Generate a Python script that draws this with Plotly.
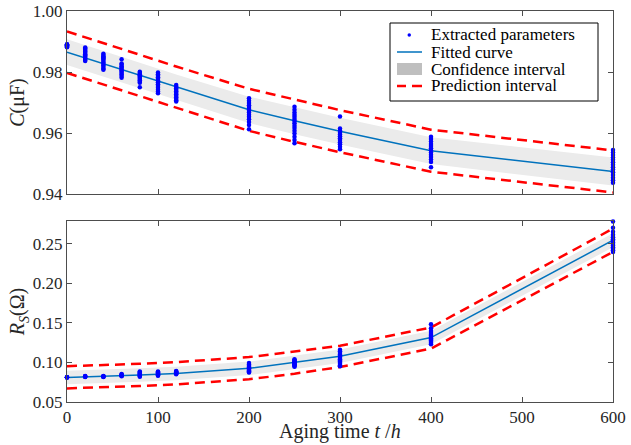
import plotly.graph_objects as go
from plotly.subplots import make_subplots

# ---------------- data ----------------
times = [0, 20, 40, 60, 80, 100, 120, 200, 250, 300, 400, 600]

C_fit = [0.9865, 0.9846, 0.9827, 0.9808, 0.9788, 0.9769, 0.9750, 0.9676, 0.9640, 0.9606, 0.9542, 0.9474]
C_conf_up = [0.9907, 0.9888, 0.9869, 0.9850, 0.9830, 0.9811, 0.9792, 0.9719, 0.9684, 0.9650, 0.9586, 0.9520]
C_conf_lo = [0.9823, 0.9804, 0.9785, 0.9766, 0.9746, 0.9727, 0.9708, 0.9633, 0.9596, 0.9562, 0.9498, 0.9428]
C_pred_up = [0.9933, 0.9914, 0.9895, 0.9876, 0.9856, 0.9837, 0.9818, 0.9745, 0.9709, 0.9675, 0.9611, 0.9543]
C_pred_lo = [0.9797, 0.9778, 0.9759, 0.9740, 0.9720, 0.9701, 0.9682, 0.9607, 0.9571, 0.9537, 0.9473, 0.9405]

R_fit = [0.0810, 0.0816, 0.0823, 0.0831, 0.0840, 0.0850, 0.0861, 0.0925, 0.0997, 0.1077, 0.1313, 0.2542]
R_conf_up = [0.0895, 0.0901, 0.0908, 0.0916, 0.0925, 0.0935, 0.0946, 0.1010, 0.1082, 0.1162, 0.1398, 0.2630]
R_conf_lo = [0.0725, 0.0731, 0.0738, 0.0746, 0.0755, 0.0765, 0.0776, 0.0840, 0.0912, 0.0992, 0.1228, 0.2454]
R_pred_up = [0.0952, 0.0958, 0.0965, 0.0973, 0.0982, 0.0992, 0.1003, 0.1067, 0.1137, 0.1209, 0.1441, 0.2689]
R_pred_lo = [0.0672, 0.0678, 0.0685, 0.0693, 0.0702, 0.0712, 0.0723, 0.0787, 0.0857, 0.0942, 0.1174, 0.2395]

# extracted parameters (one list per aging time)
C_points = [
    [0.9881, 0.9883, 0.9885, 0.9887, 0.9888, 0.9890, 0.9886, 0.9884, 0.9889, 0.9891],
    [0.9880, 0.9877, 0.9873, 0.9869, 0.9866, 0.9862, 0.9858, 0.9855, 0.9851, 0.9847, 0.9843, 0.9839, 0.9836],
    [0.9860, 0.9856, 0.9852, 0.9848, 0.9845, 0.9841, 0.9836, 0.9831, 0.9826, 0.9821, 0.9816, 0.9811, 0.9807],
    [0.9842, 0.9828, 0.9824, 0.9819, 0.9815, 0.9810, 0.9806, 0.9801, 0.9797, 0.9792, 0.9787, 0.9781],
    [0.9801, 0.9797, 0.9793, 0.9789, 0.9785, 0.9781, 0.9777, 0.9773, 0.9768, 0.9765, 0.9750],
    [0.9798, 0.9793, 0.9788, 0.9783, 0.9778, 0.9772, 0.9766, 0.9760, 0.9754, 0.9748, 0.9742, 0.9736, 0.9730],
    [0.9757, 0.9752, 0.9747, 0.9742, 0.9737, 0.9732, 0.9727, 0.9722, 0.9717, 0.9712, 0.9707, 0.9703],
    [0.9714, 0.9706, 0.9698, 0.9691, 0.9685, 0.9679, 0.9673, 0.9667, 0.9660, 0.9653, 0.9645, 0.9636, 0.9626, 0.9612],
    [0.9686, 0.9676, 0.9667, 0.9660, 0.9653, 0.9646, 0.9639, 0.9632, 0.9624, 0.9616, 0.9607, 0.9598, 0.9588, 0.9577, 0.9566],
    [0.9654, 0.9615, 0.9608, 0.9601, 0.9595, 0.9589, 0.9583, 0.9577, 0.9570, 0.9563, 0.9555, 0.9547],
    [0.9588, 0.9580, 0.9572, 0.9564, 0.9557, 0.9550, 0.9543, 0.9536, 0.9529, 0.9521, 0.9513, 0.9505, 0.9488],
    [0.9544, 0.9536, 0.9528, 0.9520, 0.9512, 0.9504, 0.9496, 0.9488, 0.9480, 0.9471, 0.9462, 0.9453, 0.9445, 0.9437],
]
R_points = [
    [0.0808, 0.0810, 0.0812, 0.0814, 0.0811],
    [0.0815, 0.0818, 0.0821, 0.0824, 0.0828],
    [0.0816, 0.0819, 0.0822, 0.0825, 0.0829],
    [0.0825, 0.0830, 0.0835, 0.0840, 0.0846, 0.0852],
    [0.0820, 0.0828, 0.0836, 0.0844, 0.0852, 0.0860, 0.0870, 0.0878, 0.0885],
    [0.0830, 0.0838, 0.0846, 0.0853, 0.0860, 0.0867, 0.0874, 0.0880, 0.0885],
    [0.0850, 0.0856, 0.0862, 0.0868, 0.0874, 0.0880, 0.0886, 0.0892],
    [0.0871, 0.0880, 0.0889, 0.0898, 0.0907, 0.0916, 0.0925, 0.0935, 0.0946, 0.0958, 0.0972, 0.0992],
    [0.0945, 0.0955, 0.0965, 0.0975, 0.0984, 0.0993, 0.1002, 0.1011, 0.1020, 0.1030, 0.1040],
    [0.0951, 0.0965, 0.0980, 0.0995, 0.1010, 0.1025, 0.1040, 0.1055, 0.1070, 0.1085, 0.1100, 0.1120, 0.1140, 0.1160],
    [0.1229, 0.1245, 0.1260, 0.1275, 0.1290, 0.1305, 0.1320, 0.1335, 0.1350, 0.1370, 0.1395, 0.1430, 0.1481],
    [0.2394, 0.2415, 0.2435, 0.2455, 0.2475, 0.2495, 0.2515, 0.2535, 0.2555, 0.2580, 0.2610, 0.2650, 0.2700, 0.2780],
]

C_ticks = [0.94, 0.96, 0.98, 1.00]
R_ticks = [0.05, 0.10, 0.15, 0.20, 0.25]
t_ticks = [0, 100, 200, 300, 400, 500, 600]

legend_labels = ["Extracted parameters", "Fitted curve", "Confidence interval", "Prediction interval"]

# ---------------- styles ----------------
FONT = "Times New Roman, Liberation Serif, serif"
FIT_COLOR = "#0072BD"
PRED_COLOR = "#FF0000"
BAND_COLOR = "#EBEBEB"
PT_COLOR = "#0000FF"
AX_COLOR = "#4D4D4D"
TXT = "#262626"

W, H = 631, 445
ML, MR, MT, MB = 67, 18, 11, 43
PW, PH = W - ML - MR, H - MT - MB


def px(x):
    return (x - ML) / PW


def py(y):
    return (H - MB - y) / PH


fig = make_subplots(rows=2, cols=1, shared_xaxes=False, vertical_spacing=0.0)


def flatten(points):
    xs, ys = [], []
    for t, vals in zip(times, points):
        xs.extend([t] * len(vals))
        ys.extend(vals)
    return xs, ys


def add_panel(row, fit, cu, cl, pu, pl, pts):
    fig.add_trace(go.Scatter(x=times, y=cu, mode="lines", line=dict(width=0, color=BAND_COLOR),
                             showlegend=False, hoverinfo="skip"), row=row, col=1)
    fig.add_trace(go.Scatter(x=times, y=cl, mode="lines", line=dict(width=0, color=BAND_COLOR),
                             fill="tonexty", fillcolor=BAND_COLOR, showlegend=False,
                             hoverinfo="skip"), row=row, col=1)
    fig.add_trace(go.Scatter(x=times, y=fit, mode="lines", line=dict(color=FIT_COLOR, width=1.5),
                             showlegend=False), row=row, col=1)
    for band in (pu, pl):
        fig.add_trace(go.Scatter(x=times, y=band, mode="lines",
                                 line=dict(color=PRED_COLOR, width=2.5, dash="10px,6px"),
                                 showlegend=False), row=row, col=1)
    xs, ys = flatten(pts)
    fig.add_trace(go.Scatter(x=xs, y=ys, mode="markers", cliponaxis=False,
                             marker=dict(color=PT_COLOR, size=4.5),
                             showlegend=False), row=row, col=1)


add_panel(1, C_fit, C_conf_up, C_conf_lo, C_pred_up, C_pred_lo, C_points)
add_panel(2, R_fit, R_conf_up, R_conf_lo, R_pred_up, R_pred_lo, R_points)

axis_common = dict(showline=True, linecolor=AX_COLOR, linewidth=1, mirror="ticks",
                   ticks="inside", ticklen=5, tickcolor=AX_COLOR, showgrid=False, zeroline=False,
                   automargin=False, tickfont=dict(family=FONT, size=17, color=TXT))

fig.update_xaxes(range=[0, 600], tickvals=t_ticks, **axis_common)
fig.update_xaxes(showticklabels=False, domain=[0, 1], row=1, col=1)
fig.update_xaxes(domain=[0, 1], row=2, col=1)

fig.update_yaxes(**axis_common)
fig.update_yaxes(range=[0.94, 1.00], tickvals=C_ticks, tickformat=".2f",
                 domain=[py(194), 1.0], row=1, col=1,
                 title=dict(text="<i>C</i>(μF)", standoff=2, font=dict(family=FONT, size=20, color=TXT)))
fig.update_yaxes(range=[0.05, 0.2785], tickvals=R_ticks, tickformat=".2f",
                 domain=[0.0, py(221)], row=2, col=1,
                 title=dict(text="<i>R</i><sub><i>S</i></sub>(Ω)", standoff=2,
                            font=dict(family=FONT, size=20, color=TXT)))

# ---------------- manual legend (MATLAB style, compact) ----------------
shapes = []
annotations = []
shapes.append(dict(type="rect", xref="paper", yref="paper", x0=px(390), x1=px(598),
                   y0=py(101), y1=py(23), line=dict(color="#000000", width=1),
                   fillcolor="white", layer="above"))
rows_y = [35, 52, 69, 86]
sx0, sx1 = 397, 422
# dot
shapes.append(dict(type="circle", xref="paper", yref="paper", x0=px(407.5), x1=px(411),
                   y0=py(rows_y[0] + 1.75), y1=py(rows_y[0] - 1.75),
                   fillcolor=PT_COLOR, line=dict(width=0), layer="above"))
# fitted line
shapes.append(dict(type="line", xref="paper", yref="paper", x0=px(sx0), x1=px(sx1),
                   y0=py(rows_y[1]), y1=py(rows_y[1]), line=dict(color=FIT_COLOR, width=1.5),
                   layer="above"))
# confidence patch
shapes.append(dict(type="rect", xref="paper", yref="paper", x0=px(sx0), x1=px(sx1),
                   y0=py(rows_y[2] + 6), y1=py(rows_y[2] - 6), fillcolor="#BFBFBF",
                   line=dict(width=0), layer="above"))
# prediction dashes
for a, b in ((sx0, sx0 + 9), (sx0 + 15, sx1)):
    shapes.append(dict(type="line", xref="paper", yref="paper", x0=px(a), x1=px(b),
                       y0=py(rows_y[3]), y1=py(rows_y[3]), line=dict(color=PRED_COLOR, width=2.5),
                       layer="above"))
for lab, yy in zip(legend_labels, rows_y):
    annotations.append(dict(text=lab, xref="paper", yref="paper", x=px(429), y=py(yy),
                            xanchor="left", yanchor="middle", showarrow=False,
                            font=dict(family=FONT, size=17, color="#000000")))

# x-axis title
annotations.append(dict(text="Aging time <i>t</i> /<i>h</i>", xref="paper", yref="paper",
                        x=px(340), y=py(431), xanchor="center", yanchor="middle", showarrow=False,
                        font=dict(family=FONT, size=20, color=TXT)))

fig.update_layout(
    width=W, height=H,
    margin=dict(l=ML, r=MR, t=MT, b=MB, autoexpand=False),
    paper_bgcolor="white", plot_bgcolor="white",
    font=dict(family=FONT, color=TXT),
    showlegend=False,
    shapes=shapes,
    annotations=annotations,
)

fig.write_html("out.html", config={"displayModeBar": False},
               post_script="document.body.style.margin='0';")
